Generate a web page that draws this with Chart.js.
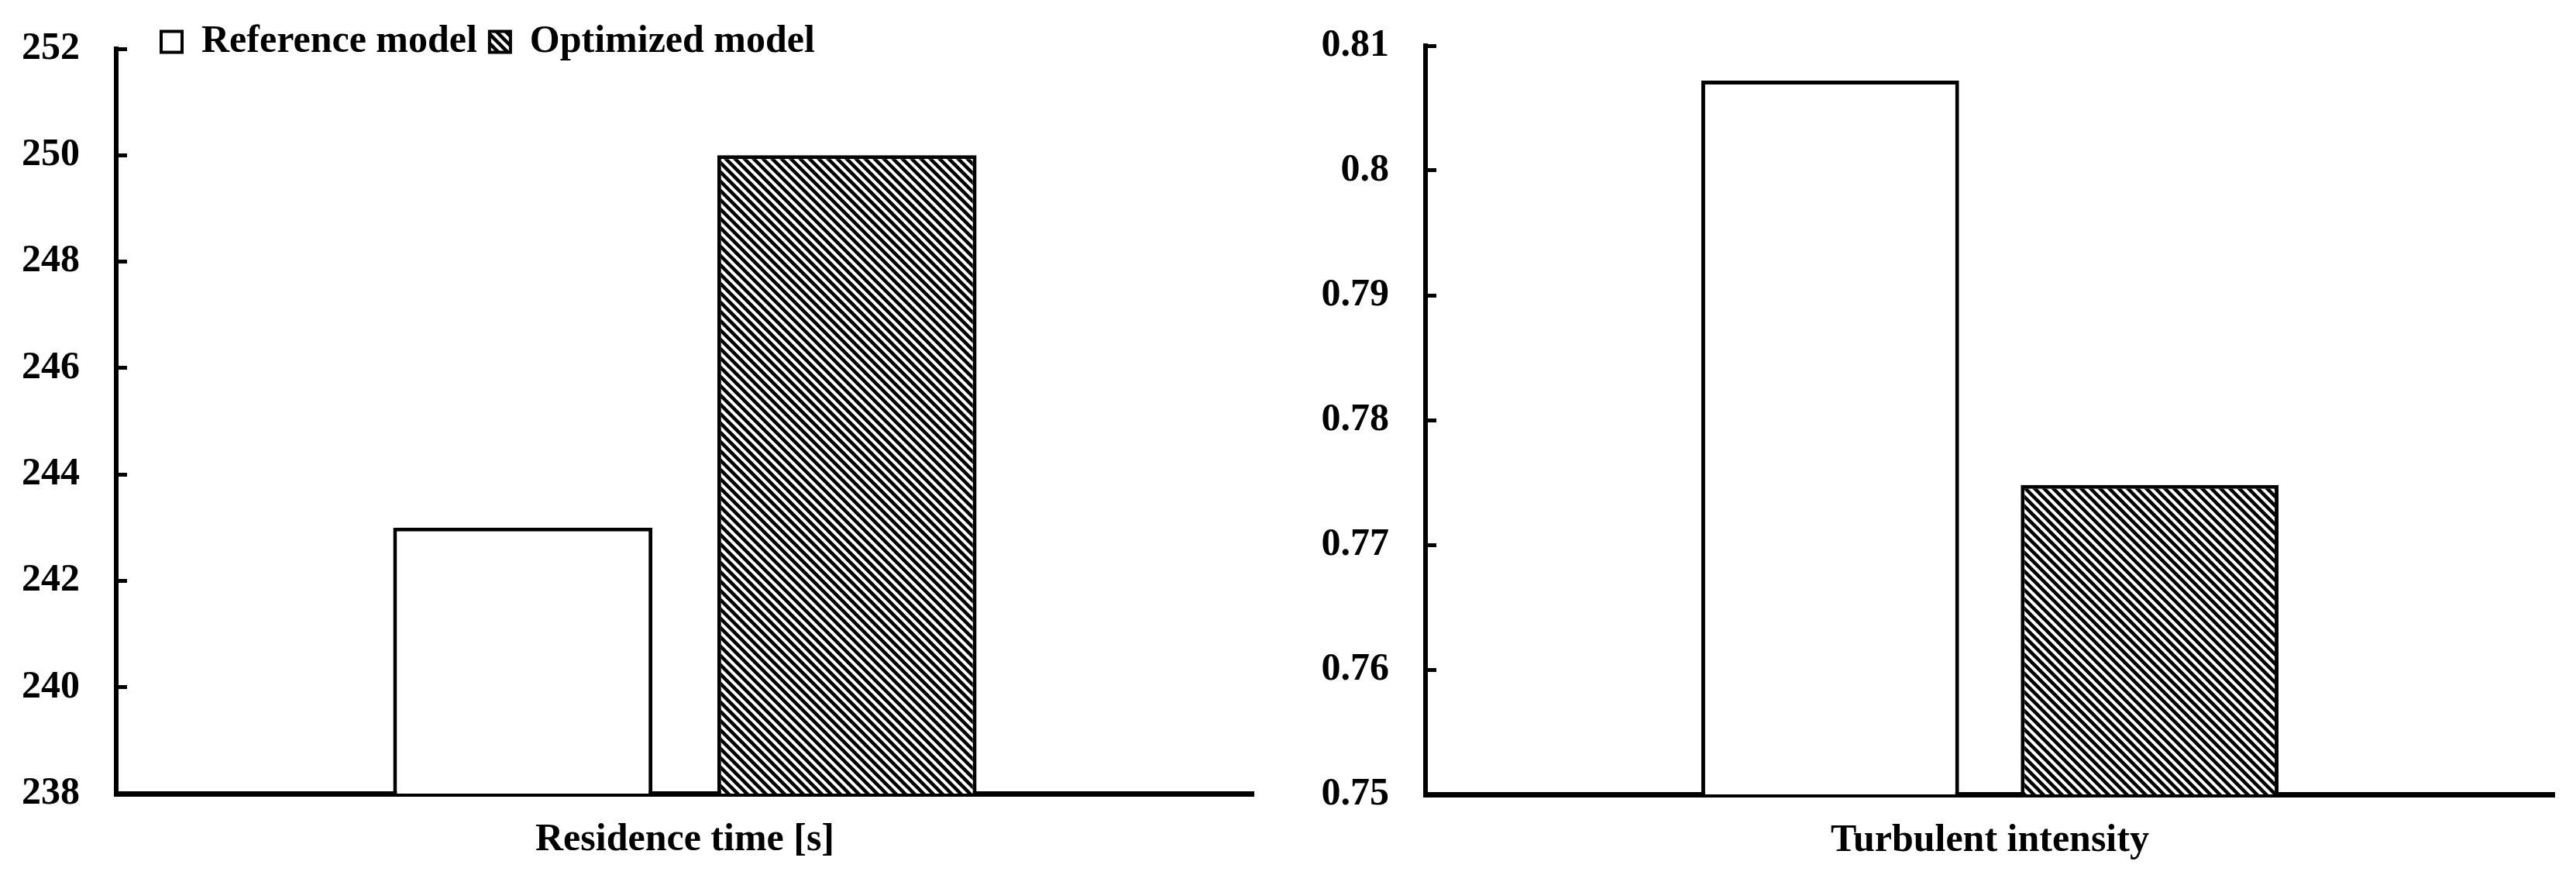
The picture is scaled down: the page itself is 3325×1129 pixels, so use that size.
<!DOCTYPE html>
<html>
<head>
<meta charset="utf-8">
<title>Reference model vs optimized model</title>
<script src="https://cdn.jsdelivr.net/npm/chart.js@4.4.1/dist/chart.umd.min.js"></script>
<style>
  body { margin: 0; background: #fff; width: 3325px; height: 1129px; overflow: hidden; }
  #residenceChart { position: absolute; left: 0; top: 0; }
  #turbulenceChart { position: absolute; left: 1660px; top: 0; }
</style>
</head>
<body>
<canvas id="residenceChart" width="1660" height="1129"></canvas>
<canvas id="turbulenceChart" width="1665" height="1129"></canvas>
<script>
const seriesNames = ["Reference model", "Optimized model"];

const residenceLabels = ["Residence time [s]"];
const residenceReference = [243.0];
const residenceOptimized = [250.0];
const residenceTicks = [238, 240, 242, 244, 246, 248, 250, 252];

const turbulenceLabels = ["Turbulent intensity"];
const turbulenceReference = [0.8072];
const turbulenceOptimized = [0.7748];
const turbulenceTicks = [0.75, 0.76, 0.77, 0.78, 0.79, 0.8, 0.81];

Chart.defaults.font.family = "'Liberation Serif', 'Times New Roman', serif";
Chart.defaults.font.weight = "bold";
Chart.defaults.font.size = 50;
Chart.defaults.color = "#000";

// diagonal "\" hatching for the optimized model
function makeHatch() {
  const c = document.createElement("canvas");
  c.width = 12;
  c.height = 12;
  const g = c.getContext("2d");
  g.fillStyle = "#fff";
  g.fillRect(0, 0, 12, 12);
  g.strokeStyle = "#000";
  g.lineWidth = 4.5;
  for (let k = -1; k <= 1; k++) {
    g.beginPath();
    g.moveTo(k * 12 - 4, -4);
    g.lineTo(k * 12 + 16, 16);
    g.stroke();
  }
  return g.createPattern(c, "repeat");
}
const hatch = makeHatch();

// legend takes no room in the layout; move it to the top-left corner afterwards
const legendMover = {
  id: "legendMover",
  afterLayout(chart) {
    const lg = chart.legend;
    if (!lg) return;
    lg.left = 192;
    lg.right = 1400;
    lg.top = 13;
    lg.bottom = 100;
    lg.width = lg.right - lg.left;
    lg.height = lg.bottom - lg.top;
  }
};

function buildChart(id, labels, refData, optData, ticks, o) {
  return new Chart(document.getElementById(id), {
    type: "bar",
    data: {
      labels: labels,
      datasets: [
        {
          label: seriesNames[0],
          data: refData,
          backgroundColor: "#fff",
          borderColor: "#000",
          borderWidth: 5,
        },
        {
          label: seriesNames[1],
          data: optData,
          backgroundColor: hatch,
          borderColor: "#000",
          borderWidth: 5,
        },
      ],
    },
    options: {
      responsive: false,
      animation: false,
      devicePixelRatio: 1,
      layout: { padding: { top: o.padTop, right: o.padRight, left: 0, bottom: 0 } },
      datasets: { bar: { categoryPercentage: o.cp, barPercentage: o.bp } },
      scales: {
        x: {
          afterFit: (s) => { s.height = o.xHeight; },
          grid: { display: false, drawTicks: false },
          border: { display: true, width: 7, color: "#000" },
          ticks: { padding: 30, color: "#000" },
        },
        y: {
          min: ticks[0],
          max: ticks[ticks.length - 1],
          afterBuildTicks: (s) => { s.ticks = ticks.map((v) => ({ value: v })); },
          afterFit: (s) => {
            s.width = o.yWidth;
            s.paddingTop = 0;
            s.paddingBottom = 0;
          },
          grid: { drawOnChartArea: false, drawTicks: true, tickLength: -14, lineWidth: 5, color: "#000" },
          border: { display: true, width: 6, color: "#000" },
          ticks: {
            padding: 61,
            color: "#000",
            callback: (v) => String(+Number(v).toFixed(2)),
          },
        },
      },
      plugins: {
        tooltip: { enabled: false },
        legend: {
          display: o.legend,
          position: "top",
          align: "start",
          maxHeight: 1,
          labels: {
            boxWidth: 27,
            boxHeight: 27,
            padding: 16,
            color: "#000",
            generateLabels: (chart) =>
              Chart.defaults.plugins.legend.labels.generateLabels(chart).map((l) => ({ ...l, lineWidth: 4 })),
          },
        },
      },
    },
    plugins: o.legend ? [legendMover] : [],
  });
}

buildChart("residenceChart", residenceLabels, residenceReference, residenceOptimized, residenceTicks, {
  padTop: 62, padRight: 42, yWidth: 150, xHeight: 105, cp: 0.57, bp: 0.8, legend: true,
});

buildChart("turbulenceChart", turbulenceLabels, turbulenceReference, turbulenceOptimized, turbulenceTicks, {
  padTop: 59, padRight: 28, yWidth: 180, xHeight: 104, cp: 0.566, bp: 0.807, legend: false,
});
</script>
</body>
</html>
